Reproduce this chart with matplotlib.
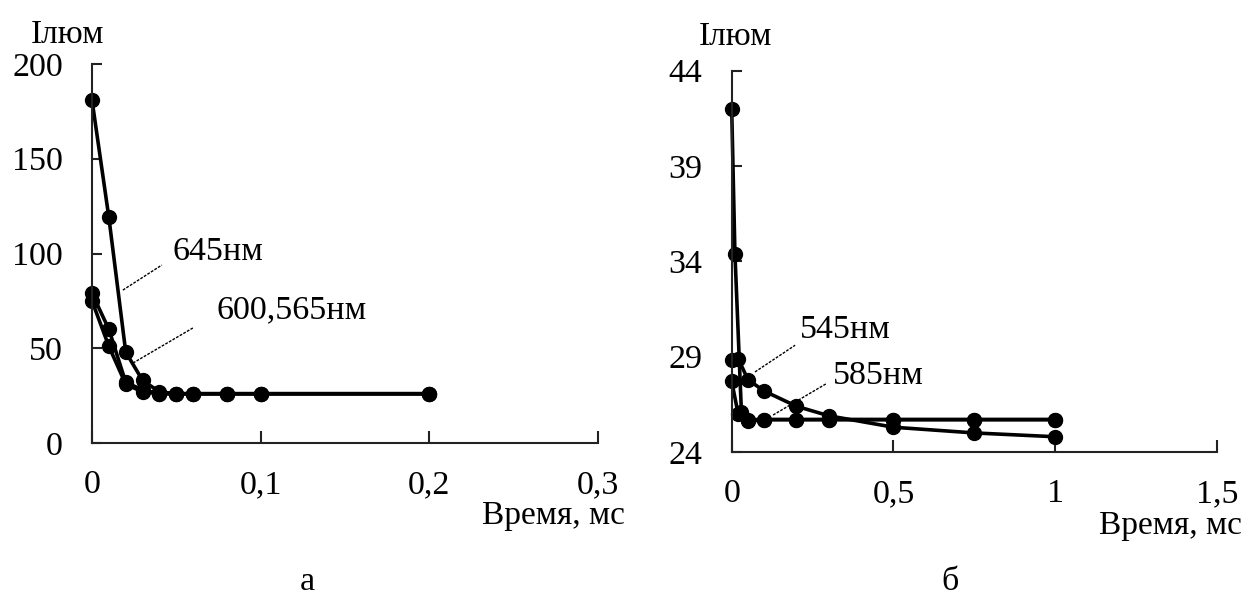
import matplotlib
matplotlib.use("Agg")
import matplotlib.pyplot as plt
from matplotlib.ticker import FuncFormatter

plt.rcParams['font.family'] = ['Liberation Serif', 'DejaVu Serif']

# ---- Panel a data ----
a_x = [0, 0.01, 0.02, 0.03, 0.04, 0.05, 0.06, 0.08, 0.1, 0.2]
a_645 = [181, 119, 48, 33, 27, 26, 26, 26, 26, 26]
a_600 = [79, 60, 32, 28, 26, 26, 26, 26, 26, 26]
a_565 = [75, 51, 31, 27, 26, 26, 26, 26, 26, 26]
a_xticks = [0, 0.1, 0.2, 0.3]
a_yticks = [0, 50, 100, 150, 200]

# ---- Panel b data ----
b_x1 = [0, 0.01, 0.03, 0.05, 0.1, 0.2, 0.3, 0.5, 0.75, 1]
b_y1 = [42, 34.4, 26.1, 25.7, 25.7, 25.7, 25.7, 25.7, 25.7, 25.7]
b_x545 = [0, 0.02, 0.05, 0.1, 0.2, 0.3, 0.5, 0.75, 1]
b_545 = [28.8, 28.9, 27.8, 27.2, 26.4, 25.9, 25.3, 25.0, 24.8]
b_x585 = [0, 0.02, 0.05, 0.1, 0.2, 0.3, 0.5, 0.75, 1]
b_585 = [27.7, 26.0, 25.6, 25.7, 25.7, 25.7, 25.7, 25.7, 25.7]
b_xticks = [0, 0.5, 1, 1.5]
b_yticks = [24, 29, 34, 39, 44]

W, H = 1249, 596
fig = plt.figure(figsize=(W / 100, H / 100), dpi=100)

def px_ax(l, r, b, t):
    return fig.add_axes([l / W, 1 - b / H, (r - l) / W, (b - t) / H])

comma = FuncFormatter(lambda v, p: ('%g' % v).replace('.', ','))
line_kw = dict(color='black', lw=2.6, marker='o', ms=10, mfc='black', mec='black')
lead_kw = dict(color='black', lw=1.0, ls=(0, (2, 1)))
FS = 24.5
LS = 24

def style(ax, xlim, ylim, xt, yt, xpad, ypad):
    ax.set_xlim(*xlim)
    ax.set_ylim(*ylim)
    ax.set_xticks(xt)
    ax.set_yticks(yt)
    ax.xaxis.set_major_formatter(comma)
    ax.yaxis.set_major_formatter(comma)
    for s in ['top', 'right']:
        ax.spines[s].set_visible(False)
    for s in ['left', 'bottom']:
        ax.spines[s].set_linewidth(1.5)
        ax.spines[s].set_color('#222222')
    ax.tick_params(axis='x', direction='in', length=9, width=1.5, pad=xpad,
                   labelsize=FS, color='#222222')
    ax.tick_params(axis='y', direction='in', length=7, width=1.5, pad=ypad,
                   labelsize=FS, color='#222222')
    ax.patch.set_visible(False)

# Panel a
ax1 = px_ax(92, 598, 443, 64)
ax1.plot(a_x, a_645, clip_on=False, **line_kw)
ax1.plot(a_x, a_600, clip_on=False, **line_kw)
ax1.plot(a_x, a_565, clip_on=False, **line_kw)
style(ax1, (0, 0.3), (0, 200), a_xticks, a_yticks, 19, 21)
ax1.plot([0.0183, 0.0414], [80.7, 93.9], **lead_kw)
ax1.plot([0.0243, 0.0598], [42.2, 60.7], **lead_kw)
ax1.text(0.048, 100.8, '645нм', fontsize=FS, va='center', ha='left')
ax1.text(0.074, 70.2, '600,565нм', fontsize=FS, va='center', ha='left')

# Panel b
ax2 = px_ax(731.7, 1217, 452, 70.7)
ax2.plot(b_x1, b_y1, clip_on=False, **line_kw)
ax2.plot(b_x545, b_545, clip_on=False, **line_kw)
ax2.plot(b_x585, b_585, clip_on=False, **line_kw)
style(ax2, (0, 1.5), (24, 44), b_xticks, b_yticks, 19, 21)
ax2.plot([0.072, 0.196], [28.2, 29.6], **lead_kw)
ax2.plot([0.128, 0.294], [25.94, 27.6], **lead_kw)
ax2.text(0.211, 30.4, '545нм', fontsize=FS, va='center', ha='left')
ax2.text(0.312, 28.0, '585нм', fontsize=FS, va='center', ha='left')

# Axis titles
fig.text(67.5 / W, 1 - 35 / H, 'Ілюм', fontsize=LS, ha='center', va='center')
fig.text(735 / W, 1 - 37 / H, 'Ілюм', fontsize=LS, ha='center', va='center')
fig.text(553 / W, 1 - 516 / H, 'Время, мс', fontsize=LS, ha='center', va='center')
fig.text(1170 / W, 1 - 526 / H, 'Время, мс', fontsize=LS, ha='center', va='center')
fig.text(307 / W, 1 - 582 / H, 'а', fontsize=FS, ha='center', va='center')
fig.text(950 / W, 1 - 582 / H, 'б', fontsize=FS, ha='center', va='center')

fig.savefig('out.png', dpi=100, facecolor='white')
